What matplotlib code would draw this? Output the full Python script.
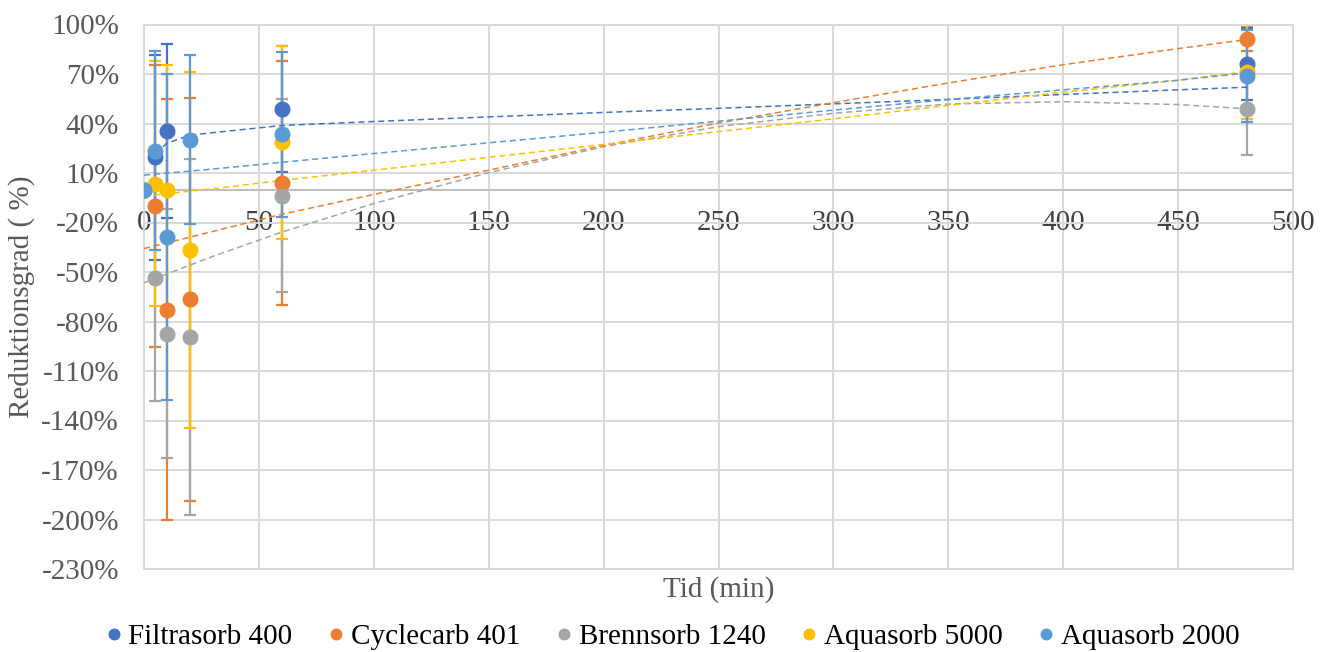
import numpy as np
import matplotlib
matplotlib.use("Agg")
import matplotlib.pyplot as plt

# ---------------- data ----------------
x_time = [0, 5, 10, 20, 60, 480]
series_names = ["Filtrasorb 400", "Cyclecarb 401", "Brennsorb 1240", "Aquasorb 5000", "Aquasorb 2000"]
colors = ["#4472C4", "#ED7D31", "#A5A5A5", "#FFC000", "#5B9BD5"]
nan = np.nan

filtrasorb_400 = [0, 19.4, 35.7, nan, 48.7, 75.8]
filtrasorb_400_err = [nan, 61.9, 52.7, nan, 38.2, 21.8]
cyclecarb_401 = [0, -10.0, -73.0, -66.5, 3.8, 91.5]
cyclecarb_401_err = [nan, 85.4, 127.6, 122.0, 73.8, 7.6]
brennsorb_1240 = [0, -53.6, -87.5, -89.2, -3.7, 48.5]
brennsorb_1240_err = [nan, 74.4, 75.4, 107.8, 58.3, 27.3]
aquasorb_5000 = [0, 3.6, 0.0, -36.6, 28.5, 71.5]
aquasorb_5000_err = [nan, 74.0, 75.2, 107.8, 58.5, 28.5]
aquasorb_2000 = [0, 23.5, -29.0, 30.2, 33.4, 69.0]
aquasorb_2000_err = [nan, 60.3, 98.8, 51.4, 50.2, 27.8]

# trend lines
trend_x_filtrasorb = [5, 10, 20, 60, 100, 150, 200, 250, 300, 350, 400, 450, 480]
trend_filtrasorb_400 = [22, 28, 33, 38.8, 41.2, 44.0, 46.7, 49.2, 51.9, 54.6, 57.6, 60.4, 62.0]
trend_x = [0, 30, 60, 100, 150, 200, 250, 300, 350, 400, 450, 480]
trend_cyclecarb_401 = [-35.8, -25.4, -15.0, -3.0, 11.7, 26.7, 40.3, 52.6, 64.6, 75.6, 85.4, 90.9]
trend_brennsorb_1240 = [-56.5, -40.5, -25.8, -8.5, 10.2, 25.9, 38.1, 46.2, 51.8, 53.2, 51.5, 48.9]
trend_aquasorb_5000 = [-4.0, 0.5, 5.5, 11.7, 19.5, 27.3, 35.1, 42.8, 51.0, 59.0, 66.2, 71.5]
trend_aquasorb_2000 = [8.7, 12.4, 16.5, 21.8, 28.3, 34.7, 41.4, 48.1, 54.5, 60.4, 66.2, 70.7]

y_ticks = list(range(-230, 101, 30))
x_ticks = list(range(0, 501, 50))

values = [filtrasorb_400, cyclecarb_401, brennsorb_1240, aquasorb_5000, aquasorb_2000]
errors = [filtrasorb_400_err, cyclecarb_401_err, brennsorb_1240_err, aquasorb_5000_err, aquasorb_2000_err]
trends = [(trend_x_filtrasorb, trend_filtrasorb_400), (trend_x, trend_cyclecarb_401),
          (trend_x, trend_brennsorb_1240), (trend_x, trend_aquasorb_5000), (trend_x, trend_aquasorb_2000)]

# ---------------- plot ----------------
plt.rcParams['font.family'] = ['Liberation Serif', 'DejaVu Serif']
FS = 21
GRID = "#D9D9D9"

fig = plt.figure(figsize=(13.34, 6.52), dpi=100)
ax = fig.add_axes([144/1334, 1-569/652, (1293-144)/1334, (569-24.5)/652])

ax.set_xlim(0, 500)
ax.set_ylim(-230, 100)
ax.set_xticks(x_ticks)
ax.set_yticks(y_ticks)
ax.set_yticklabels([f"{t}%" for t in y_ticks])
ax.grid(True, color=GRID, linewidth=1.4, zorder=0)
ax.set_axisbelow(True)

for s in ["left", "right", "top"]:
    ax.spines[s].set_color(GRID)
    ax.spines[s].set_linewidth(1.4)
ax.spines["bottom"].set_position(("data", 0))
ax.spines["bottom"].set_color("#BFBFBF")
ax.spines["bottom"].set_linewidth(1.5)
ax.spines["bottom"].set_zorder(1)
ax.axhline(-230, color=GRID, linewidth=1.4, clip_on=False, zorder=0)

ax.tick_params(axis="x", length=0, pad=15, labelsize=FS, labelcolor="#404040")
ax.tick_params(axis="y", length=0, pad=18, labelsize=FS, labelcolor="#595959")

for i, (name, c) in enumerate(zip(series_names, colors)):
    v = np.array(values[i], dtype=float)
    e = np.array(errors[i], dtype=float)
    ax.errorbar(x_time, v, yerr=e, fmt="none", ecolor=c, elinewidth=1.6,
                capsize=4.2, capthick=1.6, zorder=2 + i * 0.01)
    tx, ty = trends[i]
    ax.plot(tx, ty, color=c, linewidth=1.1, linestyle=(0, (4, 2.5)), zorder=3 + i * 0.01)
    ax.plot(x_time, v, linestyle="none", marker="o", markersize=10.5, color=c,
            label=name, zorder=4 + i * 0.01)

fig.text((144+1293)/2/1334, 1-590/652, "Tid (min)", ha="center", va="center",
         fontsize=FS, color="#595959")
fig.text(22/1334, 1-297/652, "Reduktionsgrad ( %)", ha="center", va="center",
         rotation=90, fontsize=FS, color="#595959")

handles, labels = ax.get_legend_handles_labels()
leg = fig.legend(handles, labels, loc="center", bbox_to_anchor=(673/1334, 1-637/652),
                 ncol=5, frameon=False, fontsize=FS, handlelength=0.5, handletextpad=0.25,
                 columnspacing=1.25, markerscale=0.72)
for t in leg.get_texts():
    t.set_color("#000000")

fig.savefig("out.png", dpi=100)
